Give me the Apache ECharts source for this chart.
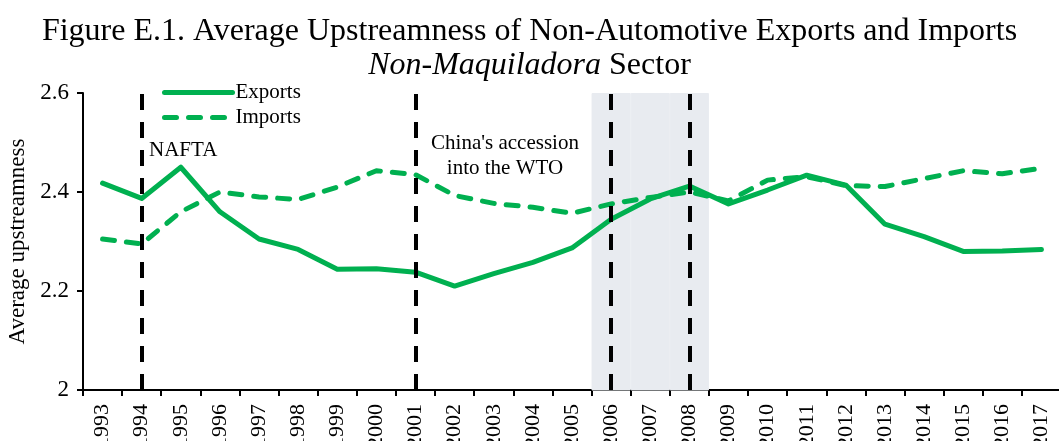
<!DOCTYPE html>
<html>
<head>
<meta charset="utf-8">
<script src="https://cdn.jsdelivr.net/npm/echarts@6/dist/echarts.min.js"></script>
<style>html,body{margin:0;padding:0;background:#fff;}#c{width:1059px;height:441px;}</style>
</head>
<body>
<div id="c"></div>
<script>
var years = ['1993','1994','1995','1996','1997','1998','1999','2000','2001','2002','2003','2004','2005','2006','2007','2008','2009','2010','2011','2012','2013','2014','2015','2016','2017'];
var exportsVals = [2.418, 2.387, 2.45, 2.36, 2.305, 2.284, 2.244, 2.245, 2.238, 2.21, 2.235, 2.258, 2.287, 2.345, 2.386, 2.412, 2.376, 2.404, 2.434, 2.414, 2.335, 2.31, 2.28, 2.281, 2.284];
var importsVals = [2.305, 2.295, 2.36, 2.4, 2.39, 2.385, 2.41, 2.443, 2.435, 2.393, 2.377, 2.369, 2.357, 2.376, 2.389, 2.4, 2.382, 2.424, 2.431, 2.413, 2.411, 2.427, 2.443, 2.437, 2.448];
var eventYears = ['1994', '2001', '2006', '2008'];
var shadeYears = ['2006', '2007', '2008'];
var yTicks = [2, 2.2, 2.4, 2.6];

var FONT = 'Liberation Serif';
var GREEN = '#00B050';
var SHADE = '#E8EBF0';
var shadeVals = years.map(function (y) { return shadeYears.indexOf(y) >= 0 ? yTicks[yTicks.length - 1] : null; });

var chart = echarts.init(document.getElementById('c'), null, {renderer: 'canvas'});
chart.setOption({
  animation: false,
  backgroundColor: '#fff',
  title: [
    {text: 'Figure E.1. Average Upstreamness of Non-Automotive Exports and Imports', left: 'center', top: 11,
     textStyle: {fontFamily: FONT, fontSize: 32, fontWeight: 'normal', color: '#000'}},
    {text: '{i|Non-Maquiladora}{n| Sector}', left: 'center', top: 45,
     textStyle: {fontWeight: 'normal', rich: {
       i: {fontFamily: FONT, fontSize: 32, fontStyle: 'italic', fontWeight: 'normal', color: '#000'},
       n: {fontFamily: FONT, fontSize: 32, fontWeight: 'normal', color: '#000'}}}}
  ],
  legend: {
    data: ['Exports', 'Imports'], orient: 'vertical', left: 157, top: 77,
    itemWidth: 68, itemHeight: 12, itemGap: 4,
    itemStyle: {opacity: 0},
    lineStyle: {width: 5, cap: 'round'},
    textStyle: {fontFamily: FONT, fontSize: 21, color: '#000', padding: [0, 0, 0, -2]}
  },
  grid: {left: 83, top: 93, width: 978, height: 297, outerBoundsMode: 'none', containLabel: false},
  xAxis: {
    type: 'category', data: years,
    axisLine: {lineStyle: {color: '#000', width: 2}},
    axisTick: {show: true, length: 6, lineStyle: {color: '#000', width: 2}},
    axisLabel: {rotate: 90, interval: 0, margin: 14, fontFamily: FONT, fontSize: 22, color: '#000'},
    splitLine: {show: false}
  },
  yAxis: {
    type: 'value', min: 2, max: 2.6, interval: 0.2,
    name: 'Average upstreamness', nameLocation: 'middle', nameGap: 44,
    nameTextStyle: {fontFamily: FONT, fontSize: 23, color: '#000'},
    axisLine: {show: true, lineStyle: {color: '#000', width: 2}},
    axisTick: {show: true, length: 6, lineStyle: {color: '#000', width: 2}},
    axisLabel: {margin: 14, fontFamily: FONT, fontSize: 23, color: '#000'},
    splitLine: {show: false}
  },
  graphic: [
    {type: 'text', x: 149, y: 140, style: {text: 'NAFTA', fontFamily: FONT, fontSize: 21, fill: '#000'}},
    {type: 'text', x: 505, y: 131, style: {text: "China's accession\ninto the WTO", fontFamily: FONT, fontSize: 21, lineHeight: 25, fill: '#000', align: 'center', verticalAlign: 'top'}}
  ],
  series: [
    {name: 'shade', type: 'bar', data: shadeVals, barCategoryGap: '0%', barGap: '0%', z: 1,
     itemStyle: {color: SHADE, borderColor: SHADE, borderWidth: 1}, silent: true},
    {name: 'Exports', type: 'line', data: exportsVals, symbol: 'none', showSymbol: false, z: 3,
     lineStyle: {color: GREEN, width: 5, cap: 'round', join: 'round'}, itemStyle: {color: GREEN},
     markLine: {silent: true, symbol: 'none', label: {show: false},
       lineStyle: {color: '#000', width: 4, type: [16, 12]},
       data: eventYears.map(function (y) { return {xAxis: y}; })}},
    {name: 'Imports', type: 'line', data: importsVals, symbol: 'none', showSymbol: false, z: 2,
     lineStyle: {color: GREEN, width: 5, type: [12, 12], cap: 'round', join: 'round'}, itemStyle: {color: GREEN}}
  ]
});
</script>
</body>
</html>
